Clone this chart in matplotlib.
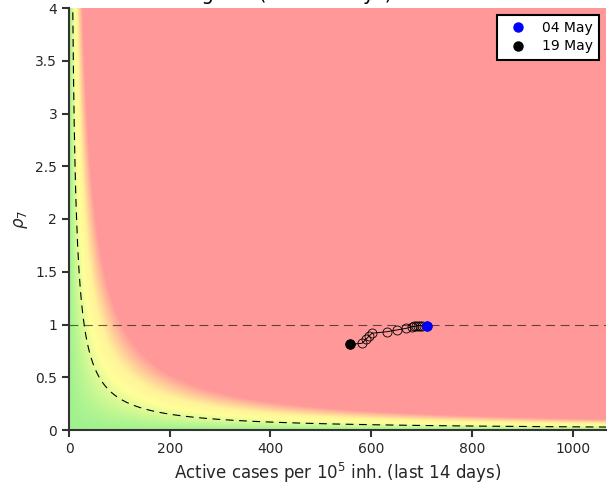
import numpy as np
import matplotlib
matplotlib.use("Agg")
import matplotlib.pyplot as plt
from matplotlib.colors import LinearSegmentedColormap
from matplotlib.ticker import FuncFormatter

# trajectory, 04 May -> 19 May (active cases per 1e5 over 14 days, rho7)
cases = [711, 702, 698, 694, 690, 686, 681, 670, 651, 632, 602, 596, 590, 582, 558]
rho = [0.986, 0.985, 0.99, 0.99, 0.986, 0.982, 0.979, 0.964, 0.948, 0.932, 0.917, 0.891, 0.86, 0.822, 0.812]
first_label = "04 May"
last_label = "19 May"
title = "Risk diagram (last 14 days)"

xmax = 1.5 * max(cases)
ymax = 4

fig = plt.figure(figsize=(6.14, 4.84), dpi=100)
ax = fig.add_axes([69/614, 54/484, 537/614, 422/484])

# background: risk = rho * cases
xx = np.linspace(0, xmax, 700)
yy = np.linspace(0, ymax, 600)
X, Y = np.meshgrid(xx, yy)
cmap = LinearSegmentedColormap.from_list(
    "risk", [(0, "#9ff28f"), (0.4, "#ffff99"), (0.6, "#fff39a"), (1, "#ff9999")])
ax.imshow(X * Y, extent=[0, xmax, 0, ymax], origin="lower", aspect="auto",
          cmap=cmap, vmin=0, vmax=105, interpolation="bilinear")

# iso-risk line and rho = 1
xc = np.linspace(1, xmax, 800)
ax.plot(xc, 30 / xc, color="black", lw=0.8, dashes=(7, 5))
ax.axhline(1, color="black", alpha=0.6, lw=0.8, dashes=(8, 5))

ax.plot(cases, rho, color="black", lw=0.7, marker="o", mfc="none", mec="black",
        mew=0.6, ms=6.5)
ax.plot(cases[0], rho[0], "o", color="blue", ms=6.5, label=first_label)
ax.plot(cases[-1], rho[-1], "o", color="black", ms=6.5, label=last_label)

ax.set_xlim(0, xmax)
ax.set_ylim(0, ymax)
ax.set_yticks(np.arange(0, 4.01, 0.5))
ax.yaxis.set_major_formatter(FuncFormatter(lambda v, p: "%g" % v))

for s in ["top", "right"]:
    ax.spines[s].set_visible(False)
for s in ["left", "bottom"]:
    ax.spines[s].set_color("#333333")
    ax.spines[s].set_linewidth(1.5)
ax.tick_params(length=5, width=1.5, color="#333333", labelsize=10, labelcolor="#262626")

ax.set_xlabel("Active cases per $10^5$ inh. (last 14 days)", fontsize=12, color="#262626")
ax.set_ylabel(r"$\rho_7$", fontsize=12, color="#262626")

leg = ax.legend(loc="upper right", fontsize=10, fancybox=False, framealpha=1,
                edgecolor="black", borderaxespad=0.5, handletextpad=0.6,
                borderpad=0.45, labelspacing=0.3, handlelength=2.2)
leg.get_frame().set_linewidth(1.5)

# title sits above the top edge, only descenders show (as in the reference)
fig.text(392/614, 1.0, title, ha="right", va="baseline", fontsize=14)

fig.savefig("out.png", dpi=100)
